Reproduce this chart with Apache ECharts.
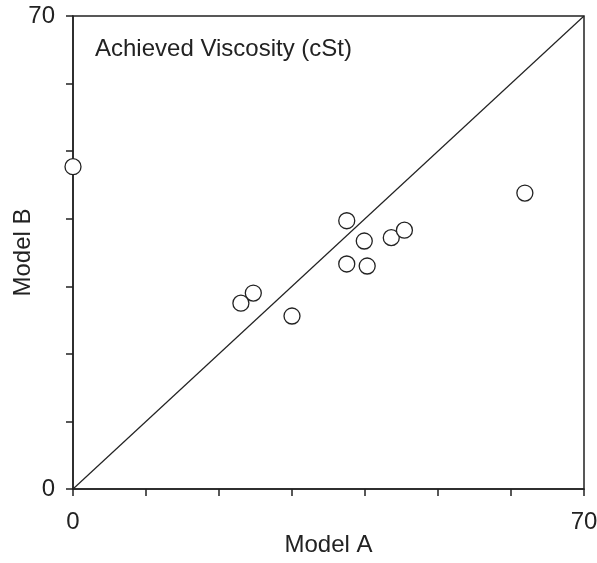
<!DOCTYPE html>
<html>
<head>
<meta charset="utf-8">
<script src="https://cdn.jsdelivr.net/npm/echarts@6/dist/echarts.min.js"></script>
<style>
  html, body { margin: 0; padding: 0; background: #fff; }
  #chart { width: 597px; height: 563px; }
</style>
</head>
<body>
<div id="chart"></div>
<script>
// Achieved viscosity (cSt): Model A vs Model B
const modelA = [0, 61.9, 37.5, 39.9, 43.6, 45.4, 37.5, 40.3, 24.7, 23.0, 30.0];
const modelB = [47.7, 43.8, 39.7, 36.7, 37.2, 38.3, 33.3, 33.0, 29.0, 27.5, 25.6];
const axisMin = 0;
const axisMax = 70;
const tickStep = 10;
const shownTicks = [0, 70];
const identityLine = [[0, 0], [70, 70]];

const points = modelA.map((a, i) => [a, modelB[i]]);
const axisColor = '#222';
const fontFamily = '"Liberation Sans", Arial, sans-serif';

const chart = echarts.init(document.getElementById('chart'), null, { renderer: 'canvas' });

const labelFmt = v => (shownTicks.includes(v) ? String(v) : '');

chart.setOption({
  animation: false,
  backgroundColor: '#fff',
  textStyle: { fontFamily },
  grid: {
    left: 73, right: 13, top: 16, bottom: 74,
    outerBoundsMode: 'none',
    containLabel: false,
    show: true, borderColor: axisColor, borderWidth: 1.5, backgroundColor: 'transparent'
  },
  title: {
    text: 'Achieved Viscosity (cSt)',
    left: 90, top: 32,
    textStyle: { fontFamily, fontSize: 24, fontWeight: 'normal', color: '#222' }
  },
  xAxis: {
    type: 'value', min: axisMin, max: axisMax, interval: tickStep,
    name: 'Model A', nameLocation: 'middle', nameGap: 44, nameMoveOverlap: false,
    nameTextStyle: { fontFamily, fontSize: 24, color: '#222' },
    axisLine: { show: true, onZero: false, lineStyle: { color: axisColor, width: 1.5 } },
    axisTick: { show: true, inside: false, length: 7, lineStyle: { color: axisColor, width: 1.5 } },
    axisLabel: { formatter: labelFmt, fontSize: 24, color: '#222', margin: 21, fontFamily },
    splitLine: { show: false }
  },
  yAxis: {
    type: 'value', min: axisMin, max: axisMax, interval: tickStep,
    name: 'Model B', nameLocation: 'middle', nameGap: 38, nameRotate: 90, nameMoveOverlap: false,
    nameTextStyle: { fontFamily, fontSize: 24, color: '#222' },
    axisLine: { show: true, onZero: false, lineStyle: { color: axisColor, width: 1.5 } },
    axisTick: { show: true, inside: false, length: 7, lineStyle: { color: axisColor, width: 1.5 } },
    axisLabel: { formatter: labelFmt, fontSize: 24, color: '#222', margin: 18, fontFamily },
    splitLine: { show: false }
  },
  series: [
    {
      type: 'line',
      data: identityLine,
      symbol: 'none',
      lineStyle: { color: '#222', width: 1.2 },
      silent: true,
      z: 2
    },
    {
      type: 'scatter',
      data: points,
      symbol: 'circle',
      symbolSize: 16,
      itemStyle: { color: '#fff', borderColor: '#222', borderWidth: 1.3, opacity: 1 },
      clip: false,
      z: 10,
      zlevel: 1
    }
  ]
});
</script>
</body>
</html>
